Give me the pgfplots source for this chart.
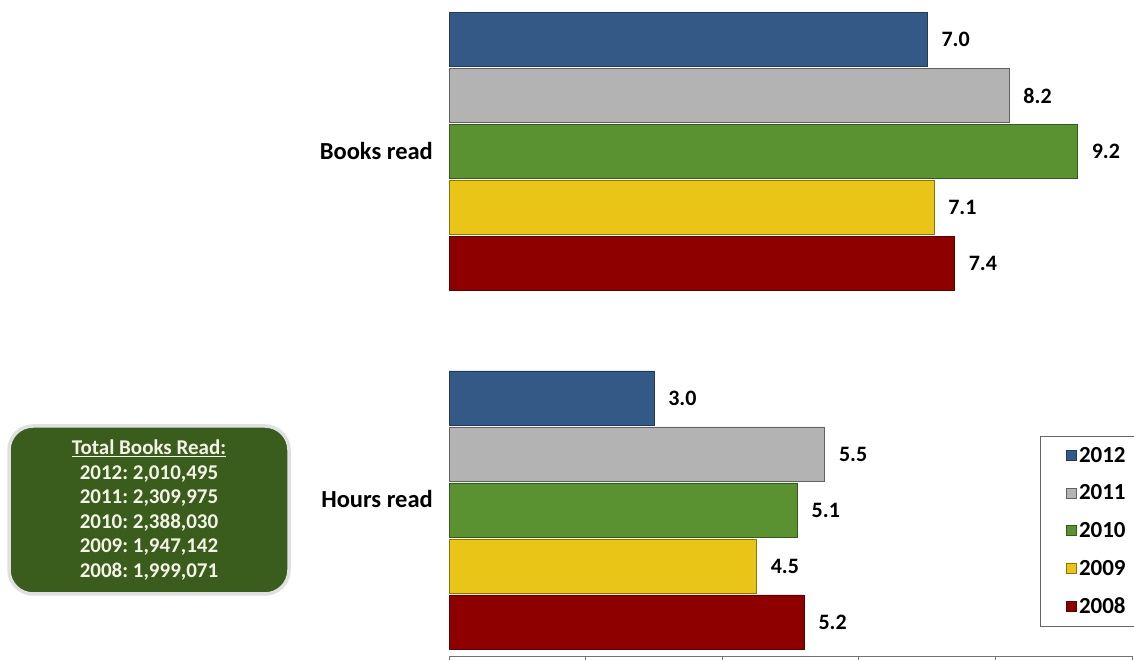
\documentclass[border=0pt]{standalone}
\usepackage{fontspec}
\setmainfont{Carlito}
\usepackage{pgfplots}
\pgfplotsset{compat=1.18}

\definecolor{c2012}{HTML}{335A86}
\definecolor{c2011}{HTML}{B3B3B3}
\definecolor{c2010}{HTML}{5A9232}
\definecolor{c2009}{HTML}{E8C517}
\definecolor{c2008}{HTML}{8E0000}
\definecolor{boxgreen}{HTML}{3A5C1D}
\definecolor{boxtext}{HTML}{F4F4E6}

\begin{document}
\frenchspacing
\begin{tikzpicture}
\useasboundingbox (0,0) rectangle (1134pt,660pt);

% Averages per reader: Books read (y=1) and Hours read (y=0)
\begin{axis}[
  at={(449pt,4pt)}, anchor=south west,
  scale only axis, width=683pt, height=656pt,
  xmin=0, xmax=10, ymin=-0.4073, ymax=1.4226,
  enlargelimits=false, clip=false,
  xbar, bar width=54pt,
  axis x line*=bottom, axis y line*=left,
  y axis line style={draw=none},
  x axis line style={-, black!55, line width=0.8pt},
  xtick={0,2,...,10}, xticklabels={},
  x tick style={black!55, line width=0.8pt},
  tick align=outside, major tick length=12pt,
  ytick={0.031,1}, yticklabels={Hours read, Books read},
  y tick style={draw=none},
  yticklabel style={font=\fontsize{24.5}{27}\selectfont\bfseries, inner sep=0pt, xshift=-4pt},
  /pgf/number format/assume math mode=true,
  nodes near coords, point meta=x,
  nodes near coords={\pgfmathprintnumber[fixed,precision=1,zerofill]{\pgfplotspointmeta}},
  every node near coord/.append style={font=\fontsize{22}{25}\selectfont\bfseries, text=black, inner sep=0pt, anchor=west, xshift=14pt},
  legend image code/.code={\fill[#1] (0pt,-5pt) rectangle (10pt,5pt);},
  legend style={at={(0.8653,0.3354)}, anchor=north west, draw=black!60,
    font=\fontsize{23}{25}\selectfont\bfseries, row sep=17pt,
    inner xsep=26pt, inner ysep=9pt, cells={anchor=west},
    /tikz/every even column/.append style={column sep=0pt}},
]
\addplot[fill=c2012, draw=c2012!65!black, line width=0.8pt, bar shift=112pt]
  coordinates {(7.0,1) (3.0,0)};
\addplot[fill=c2011, draw=c2011!55!black, line width=0.8pt, bar shift=56pt]
  coordinates {(8.2,1) (5.5,0)};
\addplot[fill=c2010, draw=c2010!60!black, line width=0.8pt, bar shift=0pt]
  coordinates {(9.2,1) (5.1,0)};
\addplot[fill=c2009, draw=c2009!60!black, line width=0.8pt, bar shift=-56pt]
  coordinates {(7.1,1) (4.5,0)};
\addplot[fill=c2008, draw=c2008!65!black, line width=0.8pt, bar shift=-112pt]
  coordinates {(7.4,1) (5.2,0)};
\legend{2012,2011,2010,2009,2008}
\end{axis}

% Totals panel
\node[fill=boxgreen, draw=white!88!black, line width=3.5pt,
      rounded corners=24pt, minimum width=280pt, minimum height=168pt,
      text=boxtext, align=center, font=\fontsize{21}{24.5}\selectfont\bfseries]
  at (149pt,150pt)
  {\underline{Total Books Read:}\\
   2012: 2,010,495\\
   2011: 2,309,975\\
   2010: 2,388,030\\
   2009: 1,947,142\\
   2008: 1,999,071};
\end{tikzpicture}
\end{document}
